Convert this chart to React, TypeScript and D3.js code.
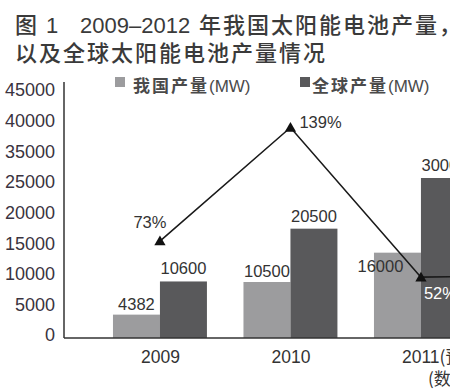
import React from 'react';
import * as d3 from 'd3';

// data (2012 lies outside the cropped picture, estimated)
const years = ['2009', '2010', '2011', '2012'];
const yearLabels = ['2009', '2010', '2011(预计)', '2012(预计)'];
const chinaOutput = [4382, 10500, 16000, 24500];
const worldOutput = [10600, 20500, 30000, 37000];
const chinaGrowth = [73, 139, 52, 53];
const yTickLabels = ['0', '5000', '10000', '15000', '20000', '25000', '35000', '40000', '45000'];
const seriesNames = ['我国产量', '全球产量'];

const W = 450;
const H = 390;
const LIGHT = '#9c9c9e';
const DARK = '#59595b';
const TEXT = '#333';
const NUM_FONT = '"Liberation Sans", Arial, sans-serif';
const CJK_FONT = '"Noto Sans CJK SC", "Noto Sans", sans-serif';

const App = () => {
  const axisX = 64;
  const baseY = 338;

  // bars
  const x = d3.scaleBand().domain(years).range([94.7, 616.7]).paddingInner(0.28).paddingOuter(0.14);
  const xs = d3.scaleBand().domain(['cn', 'world']).range([0, x.bandwidth()]);
  const y = d3.scaleLinear().domain([0, 48000]).range([baseY, 82]);
  // growth line (own scale)
  const yp = d3.scaleLinear().domain([0, 150]).range([366.6, 108.6]);
  // tick labels are printed evenly spaced in the original
  const yLab = d3.scalePoint().domain(yTickLabels).range([335, 90]);

  const cx = (i) => (x(years[i]) ?? 0) + x.bandwidth() / 2;
  const linePts = chinaGrowth.map((v, i) => [cx(i), yp(v)] as [number, number]);
  const line = d3.line();
  const tri = d3.symbol().type(d3.symbolTriangle).size(55)();

  // label offsets relative to their point
  const pctOffsets = [[-10, -13, 'middle', TEXT], [9, 0, 'start', TEXT], [3, 22, 'start', '#fff'], [3, 22, 'start', '#fff']];

  return (
    <div style={{ position: 'absolute', left: 0, top: 0, width: W, height: H, overflow: 'hidden', background: '#fff' }}>
      <svg width={W} height={H} style={{ display: 'block' }}>
        {/* title */}
        <g fill="#3a3a3a" fontSize={22}>
          <text x={15} y={33} fontFamily={CJK_FONT} fontWeight={500}>图</text>
          <text x={46} y={33} fontFamily={NUM_FONT}>1</text>
          <text x={80} y={33} fontFamily={NUM_FONT}>2009–2012</text>
          <text x={199} y={33} fontFamily={CJK_FONT} fontWeight={500} letterSpacing={2}>年我国太阳能电池产量，</text>
          <text x={15} y={61} fontFamily={CJK_FONT} fontWeight={500} letterSpacing={2}>以及全球太阳能电池产量情况</text>
        </g>

        {/* legend */}
        {seriesNames.map((name, i) => {
          const lx = i === 0 ? 115 : 300;
          return (
            <g key={name}>
              <rect x={lx} y={77} width={10} height={10} fill={i === 0 ? LIGHT : DARK} />
              <text x={lx + (i === 0 ? 18 : 12)} y={92} fill="#4a4a4a" fontSize={17}>
                <tspan fontFamily={CJK_FONT} fontWeight="bold" letterSpacing={2}>{name}</tspan>
                <tspan fontFamily={NUM_FONT}>(MW)</tspan>
              </text>
            </g>
          );
        })}

        {/* y tick labels */}
        {yTickLabels.map((t) => (
          <text key={t} x={55} y={yLab(t)} dy="0.36em" textAnchor="end" fontFamily={NUM_FONT} fontSize={18} fill="#3a3340">
            {t}
          </text>
        ))}

        {/* bars */}
        {years.map((yr, i) => (
          <g key={yr} transform={`translate(${x(yr)},0)`}>
            <rect x={xs('cn')} y={y(chinaOutput[i])} width={xs.bandwidth()} height={baseY - y(chinaOutput[i])} fill={LIGHT} />
            <rect x={xs('world')} y={y(worldOutput[i])} width={xs.bandwidth()} height={baseY - y(worldOutput[i])} fill={DARK} />
          </g>
        ))}

        {/* axes */}
        <line x1={axisX} x2={axisX} y1={82} y2={baseY} stroke="#333" strokeWidth={1.5} />
        <line x1={axisX} x2={W} y1={baseY} y2={baseY} stroke="#333" strokeWidth={1.5} />

        {/* bar values */}
        {years.map((yr, i) => {
          const c1 = (x(yr) ?? 0) + (xs('cn') ?? 0) + xs.bandwidth() / 2;
          const c2 = (x(yr) ?? 0) + (xs('world') ?? 0) + xs.bandwidth() / 2;
          const odd = i === 2; // 16000 label sits inside-left in the original
          return (
            <g key={yr} fontFamily={NUM_FONT} fontSize={16.5} fill={TEXT} textAnchor="middle">
              <text x={odd ? c1 - 17 : c1} y={odd ? y(chinaOutput[i]) + 19 : y(chinaOutput[i]) - 5}>{chinaOutput[i]}</text>
              <text x={c2} y={y(worldOutput[i]) - 7}>{worldOutput[i]}</text>
            </g>
          );
        })}

        {/* x labels */}
        {years.map((yr, i) => (
          <text key={yr} x={cx(i) - 19} y={363} fontFamily={NUM_FONT} fontSize={17.5} fill={TEXT}>
            <tspan fontFamily={NUM_FONT}>{yearLabels[i].slice(0, 4)}</tspan>
            <tspan fontFamily={CJK_FONT}>{yearLabels[i].slice(4)}</tspan>
          </text>
        ))}
        <text x={cx(2) + 7} y={385} fontFamily={CJK_FONT} fontSize={17} fill={TEXT}>(数据来源：网络)</text>

        {/* growth line */}
        <path d={line(linePts) ?? ''} fill="none" stroke="#1a1a1a" strokeWidth={1.6} />
        {linePts.map(([px, py], i) => (
          <g key={i}>
            <path d={tri ?? ''} transform={`translate(${px},${py + 1})`} fill="#111" />
            <text
              x={px + (pctOffsets[i][0] as number)}
              y={py + (pctOffsets[i][1] as number)}
              textAnchor={pctOffsets[i][2] as string}
              fill={pctOffsets[i][3] as string}
              fontFamily={NUM_FONT}
              fontSize={16.5}
            >
              {chinaGrowth[i]}%
            </text>
          </g>
        ))}
      </svg>
    </div>
  );
};

export default App;
